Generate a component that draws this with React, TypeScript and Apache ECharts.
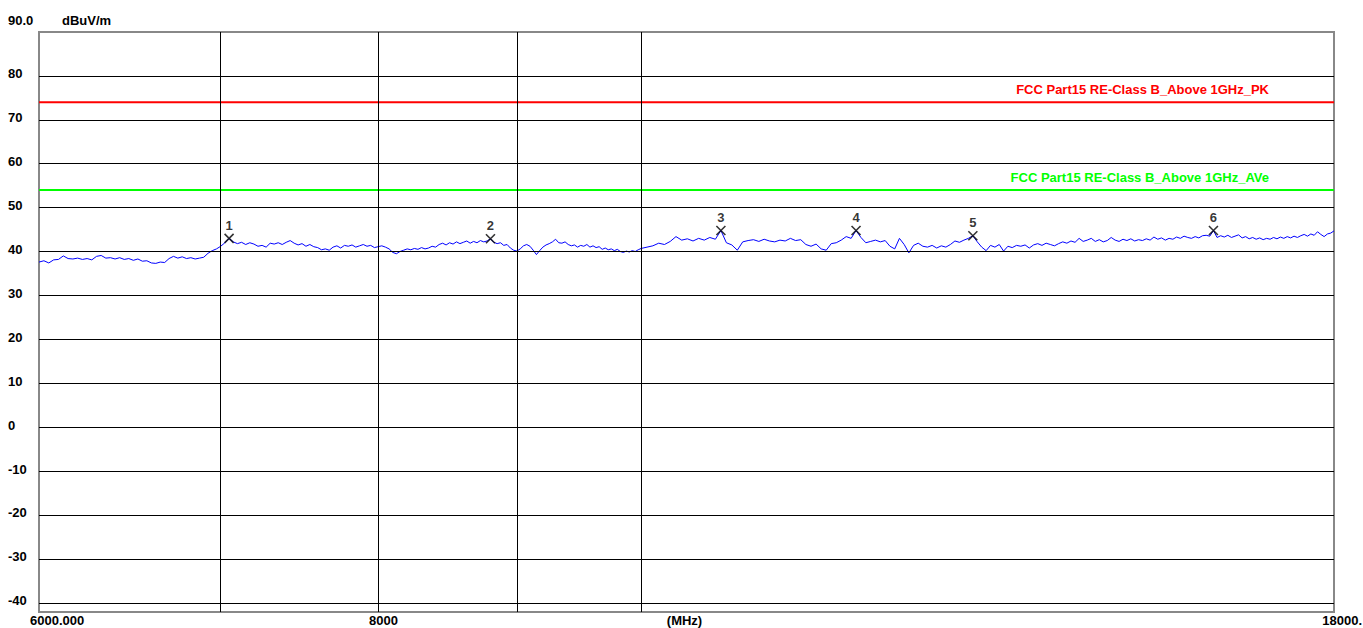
import React, { useEffect, useRef } from "react";
import * as echarts from "echarts";

// ---- data ----
const xMin = 6000;
const xMax = 18000;
const yMin = -42.1;
const yMax = 90;
const yTicks = [90, 80, 70, 60, 50, 40, 30, 20, 10, 0, -10, -20, -30, -40];
const yTickLabels = ["90.0", "80", "70", "60", "50", "40", "30", "20", "10", "0", "-10", "-20", "-30", "-40"];
const xGridFreqs = [7000, 8000, 9000, 10000];
const xTickVals = [6000, 8000, 18000];
const xTickLabels = ["6000.000", "8000", "18000."];
const xUnit = "(MHz)";
const yUnit = "dBuV/m";

const limitPK = 74;
const limitAV = 54;
const limitPKName = "FCC Part15 RE-Class B_Above 1GHz_PK";
const limitAVName = "FCC Part15 RE-Class B_Above 1GHz_AVe";

const markerFreqs = [7050, 8800, 10700, 12000, 13250, 16250];
const markerLevels = [43.0, 42.9, 44.8, 44.8, 43.6, 44.8];
const markerNames = ["1", "2", "3", "4", "5", "6"];

// measured trace [MHz, dBuV/m]
const trace: [number, number][] = [
  [6000, 37.6], [6025, 37.9], [6050, 37.4], [6075, 38.1], [6100, 38.2], [6125, 39.0], [6150, 38.4], [6175, 38.3], [6200, 38.5], [6225, 38.2],
  [6250, 38.4], [6275, 38.1], [6300, 38.9], [6325, 39.1], [6350, 38.5], [6375, 38.6], [6400, 38.3], [6425, 38.6], [6450, 38.2], [6475, 38.4],
  [6500, 38.0], [6525, 38.3], [6550, 37.8], [6575, 37.9], [6600, 37.4], [6625, 37.3], [6650, 37.6], [6675, 37.5], [6700, 38.4], [6725, 38.9],
  [6750, 38.5], [6775, 38.8], [6800, 38.4], [6825, 38.6], [6850, 38.3], [6875, 38.5], [6900, 38.7], [6925, 39.6], [6950, 40.2], [6975, 40.6], [7000, 41.2],
  [7025, 42.0], [7050, 43.0], [7075, 42.2], [7100, 41.8], [7125, 42.1], [7150, 41.6], [7175, 42.0], [7200, 41.7], [7225, 41.2], [7250, 41.4],
  [7275, 41.0], [7300, 41.9], [7325, 41.7], [7350, 42.0], [7375, 41.6], [7400, 42.1], [7425, 42.5], [7450, 41.9], [7475, 41.5], [7500, 41.8],
  [7525, 41.2], [7550, 41.6], [7575, 41.1], [7600, 40.9], [7625, 40.4], [7650, 40.6], [7675, 40.3], [7700, 41.0], [7725, 41.3], [7750, 40.8],
  [7775, 41.4], [7800, 41.2], [7825, 41.5], [7850, 41.0], [7875, 41.3], [7900, 41.6], [7925, 41.2], [7950, 41.4], [7975, 40.9], [8000, 41.1],
  [8025, 41.3], [8050, 41.0], [8075, 40.6], [8100, 39.8], [8125, 39.5], [8150, 40.0], [8175, 40.3], [8200, 40.6], [8225, 40.4], [8250, 40.7],
  [8275, 40.5], [8300, 40.9], [8325, 40.6], [8350, 40.8], [8375, 41.2], [8400, 41.0], [8425, 41.6], [8450, 41.9], [8475, 41.5], [8500, 42.0],
  [8525, 41.7], [8550, 42.2], [8575, 41.8], [8600, 42.1], [8625, 42.4], [8650, 41.9], [8675, 42.3], [8700, 42.0], [8725, 42.5], [8750, 42.2],
  [8775, 42.4], [8800, 42.9], [8825, 42.1], [8850, 41.8], [8875, 42.0], [8900, 41.4], [8925, 41.6], [8950, 40.8], [8975, 40.3], [9000, 40.1],
  [9025, 40.6], [9050, 41.3], [9075, 41.6], [9100, 41.2], [9125, 40.3], [9150, 39.3], [9175, 40.2], [9200, 41.0], [9225, 41.5], [9250, 41.8],
  [9275, 42.2], [9300, 42.8], [9325, 42.0], [9350, 41.9], [9375, 42.2], [9400, 41.6], [9425, 41.3], [9450, 41.5], [9475, 41.0], [9500, 41.4],
  [9525, 41.2], [9550, 41.6], [9575, 41.0], [9600, 41.3], [9625, 40.9], [9650, 41.1], [9675, 40.5], [9700, 40.8], [9725, 40.4], [9750, 40.6],
  [9775, 40.2], [9800, 40.5], [9825, 40.0], [9850, 39.8], [9875, 40.1], [9900, 39.9], [9925, 40.2], [9950, 40.0], [9975, 40.4], [10000, 40.7],
  [10050, 41.0], [10100, 41.3], [10150, 41.9], [10200, 41.6], [10250, 42.3], [10300, 43.4], [10350, 42.6], [10400, 42.9], [10450, 42.4], [10500, 43.0],
  [10550, 42.6], [10600, 43.2], [10650, 42.8], [10700, 44.8], [10750, 42.0], [10800, 41.5], [10850, 40.3], [10900, 42.2], [10950, 42.5], [11000, 42.7],
  [11050, 42.3], [11100, 42.8], [11150, 42.4], [11200, 42.2], [11250, 42.6], [11300, 42.4], [11350, 43.0], [11400, 42.5], [11450, 42.7], [11500, 41.6],
  [11550, 41.2], [11600, 41.7], [11650, 40.6], [11700, 40.3], [11750, 41.8], [11800, 42.0], [11850, 42.6], [11900, 43.4], [11950, 43.0], [12000, 44.8],
  [12050, 43.2], [12100, 42.0], [12150, 42.3], [12200, 42.6], [12250, 42.2], [12300, 42.5], [12350, 41.2], [12400, 40.6], [12450, 43.0], [12500, 41.6],
  [12550, 39.7], [12600, 41.4], [12650, 41.9], [12700, 41.2], [12750, 41.0], [12800, 41.4], [12850, 40.8], [12900, 41.3], [12950, 41.0], [13000, 41.6],
  [13050, 42.4], [13100, 42.1], [13150, 42.6], [13200, 43.0], [13250, 43.6], [13300, 42.2], [13350, 41.0], [13400, 40.2], [13450, 41.4], [13500, 41.0],
  [13550, 41.6], [13600, 40.1], [13650, 41.2], [13700, 40.9], [13750, 41.4], [13800, 41.2], [13850, 41.5], [13900, 40.8], [13950, 41.5], [14000, 41.8],
  [14050, 41.4], [14100, 41.9], [14150, 41.6], [14200, 41.3], [14250, 41.8], [14300, 42.2], [14350, 41.9], [14400, 42.4], [14450, 42.1], [14500, 43.0],
  [14550, 42.3], [14600, 42.6], [14650, 43.0], [14700, 42.3], [14750, 42.7], [14800, 42.2], [14850, 42.5], [14900, 43.2], [14950, 42.6], [15000, 42.3],
  [15050, 42.8], [15100, 42.5], [15150, 42.9], [15200, 42.4], [15250, 42.7], [15300, 42.5], [15350, 42.9], [15400, 42.6], [15450, 43.3], [15500, 42.8],
  [15550, 43.1], [15600, 42.6], [15650, 43.0], [15700, 42.8], [15750, 43.3], [15800, 43.0], [15850, 43.5], [15900, 43.2], [15950, 43.0], [16000, 43.4],
  [16050, 43.1], [16100, 43.6], [16150, 43.7], [16200, 43.5], [16250, 44.8], [16300, 43.2], [16350, 43.6], [16400, 43.3], [16450, 43.7], [16500, 43.2],
  [16550, 43.5], [16600, 43.8], [16650, 43.1], [16700, 43.4], [16750, 42.9], [16800, 43.2], [16850, 42.8], [16900, 43.1], [16950, 42.7], [17000, 43.0],
  [17050, 42.8], [17100, 43.2], [17150, 42.9], [17200, 43.3], [17250, 43.0], [17300, 43.4], [17350, 43.1], [17400, 43.5], [17450, 43.2], [17500, 43.6],
  [17550, 43.9], [17600, 43.5], [17650, 44.0], [17700, 43.7], [17750, 44.5], [17800, 43.9], [17850, 43.4], [17900, 44.0], [17950, 44.2], [18000, 44.7],
];

const FONT = "'Liberation Sans', Arial, sans-serif";

export default function App() {
  const ref = useRef<HTMLDivElement>(null);

  useEffect(() => {
    document.body.style.margin = "0";
    const chart = echarts.init(ref.current!, null, { renderer: "svg" });
    const gridValues = yTicks.filter((v) => v < yMax);

    chart.setOption({
      animation: false,
      backgroundColor: "#ffffff",
      grid: {
        left: 39,
        right: 29,
        top: 32,
        bottom: 16,
        show: true,
        borderColor: "#888888",
        borderWidth: 2,
        backgroundColor: "#ffffff",
      },
      xAxis: {
        type: "log",
        logBase: 10,
        min: xMin,
        max: xMax,
        axisLine: { show: false },
        axisTick: { show: false },
        axisLabel: { show: false },
        splitLine: { show: false },
      },
      yAxis: {
        type: "value",
        min: yMin,
        max: yMax,
        axisLine: { show: false },
        axisTick: { show: false },
        splitLine: { show: false },
        axisLabel: {
          customValues: yTicks,
          align: "left",
          margin: 31,
          formatter: (v: number) => {
            const i = yTicks.indexOf(Math.round(v));
            const t = i >= 0 ? yTickLabels[i] : "";
            return Math.round(v) === yMax ? `{t|${t}}` : `{n|${t}}`;
          },
          rich: {
            t: { fontSize: 13, fontWeight: "bold", fontFamily: FONT, color: "#000", padding: [0, 0, 24, 0] },
            n: { fontSize: 13, fontWeight: "bold", fontFamily: FONT, color: "#000", padding: [0, 0, 4, 0] },
          },
        },
      },
      series: [
        {
          type: "line",
          name: "grid",
          z: 1,
          silent: true,
          symbol: "none",
          data: [[xMin, yMin]],
          lineStyle: { width: 0 },
          markLine: {
            silent: true,
            symbol: ["none", "none"],
            label: { show: false },
            lineStyle: { color: "#000000", width: 1, type: "solid" },
            emphasis: { disabled: true },
            data: [
              ...gridValues.map((v) => ({ yAxis: v })),
              ...xGridFreqs.map((f) => ({ xAxis: f })),
            ],
          },
        },
        {
          type: "line",
          name: limitPKName,
          z: 2,
          silent: true,
          symbol: "none",
          data: [[xMin, limitPK], [xMax, limitPK]],
          lineStyle: { color: "#ff0000", width: 2 },
        },
        {
          type: "line",
          name: limitAVName,
          z: 2,
          silent: true,
          symbol: "none",
          data: [[xMin, limitAV], [xMax, limitAV]],
          lineStyle: { color: "#00ff00", width: 2 },
        },
        {
          type: "line",
          name: "trace",
          z: 3,
          silent: true,
          symbol: "none",
          data: trace,
          lineStyle: { color: "#0000ff", width: 1 },
        },
        {
          type: "scatter",
          name: "markers",
          z: 4,
          silent: true,
          symbol: "path://M0,0L10,10M10,0L0,10",
          symbolSize: 9,
          data: markerFreqs.map((f, i) => [f, markerLevels[i]]),
          itemStyle: { color: "rgba(0,0,0,0)", borderColor: "#000000", borderWidth: 1.6 },
          label: {
            show: true,
            position: "top",
            distance: 1,
            formatter: (p: any) => markerNames[p.dataIndex],
            fontSize: 13,
            fontWeight: "bold",
            fontFamily: FONT,
            color: "#000000",
          },
        },
      ],
    });

    const toPx = (f: number, v: number) => chart.convertToPixel({ gridIndex: 0 }, [f, v]) as number[];
    const [x0, yTop] = toPx(xMin, yMax);
    const [x1, yBot] = toPx(xMax, yMin);
    const W = chart.getWidth();
    const txt = (text: string, x: number, y: number, align: string, fill = "#000000") => ({
      type: "text",
      x,
      y,
      silent: true,
      style: {
        text,
        fill,
        fontSize: 13,
        fontWeight: "bold",
        fontFamily: FONT,
        align,
        verticalAlign: "middle",
      },
    });

    const last = xTickVals.length - 1;
    chart.setOption({
      graphic: [
        ...xTickVals.map((f, i) =>
          i === last
            ? txt(xTickLabels[i], W - 1, yBot + 8, "right")
            : txt(xTickLabels[i], toPx(f, yMin)[0] - 9, yBot + 8, "left")
        ),
        txt(xUnit, (x0 + x1) / 2 - 2, yBot + 8, "center"),
        txt(yUnit, x0 + 23, yTop - 12, "left"),
        txt(limitPKName, x1 - 65, toPx(xMax, limitPK)[1] - 13, "right", "#ff0000"),
        txt(limitAVName, x1 - 65, toPx(xMax, limitAV)[1] - 13, "right", "#00ff00"),
      ],
    });

    return () => {
      chart.dispose();
    };
  }, []);

  return <div ref={ref} style={{ width: 1363, height: 628 }} />;
}
